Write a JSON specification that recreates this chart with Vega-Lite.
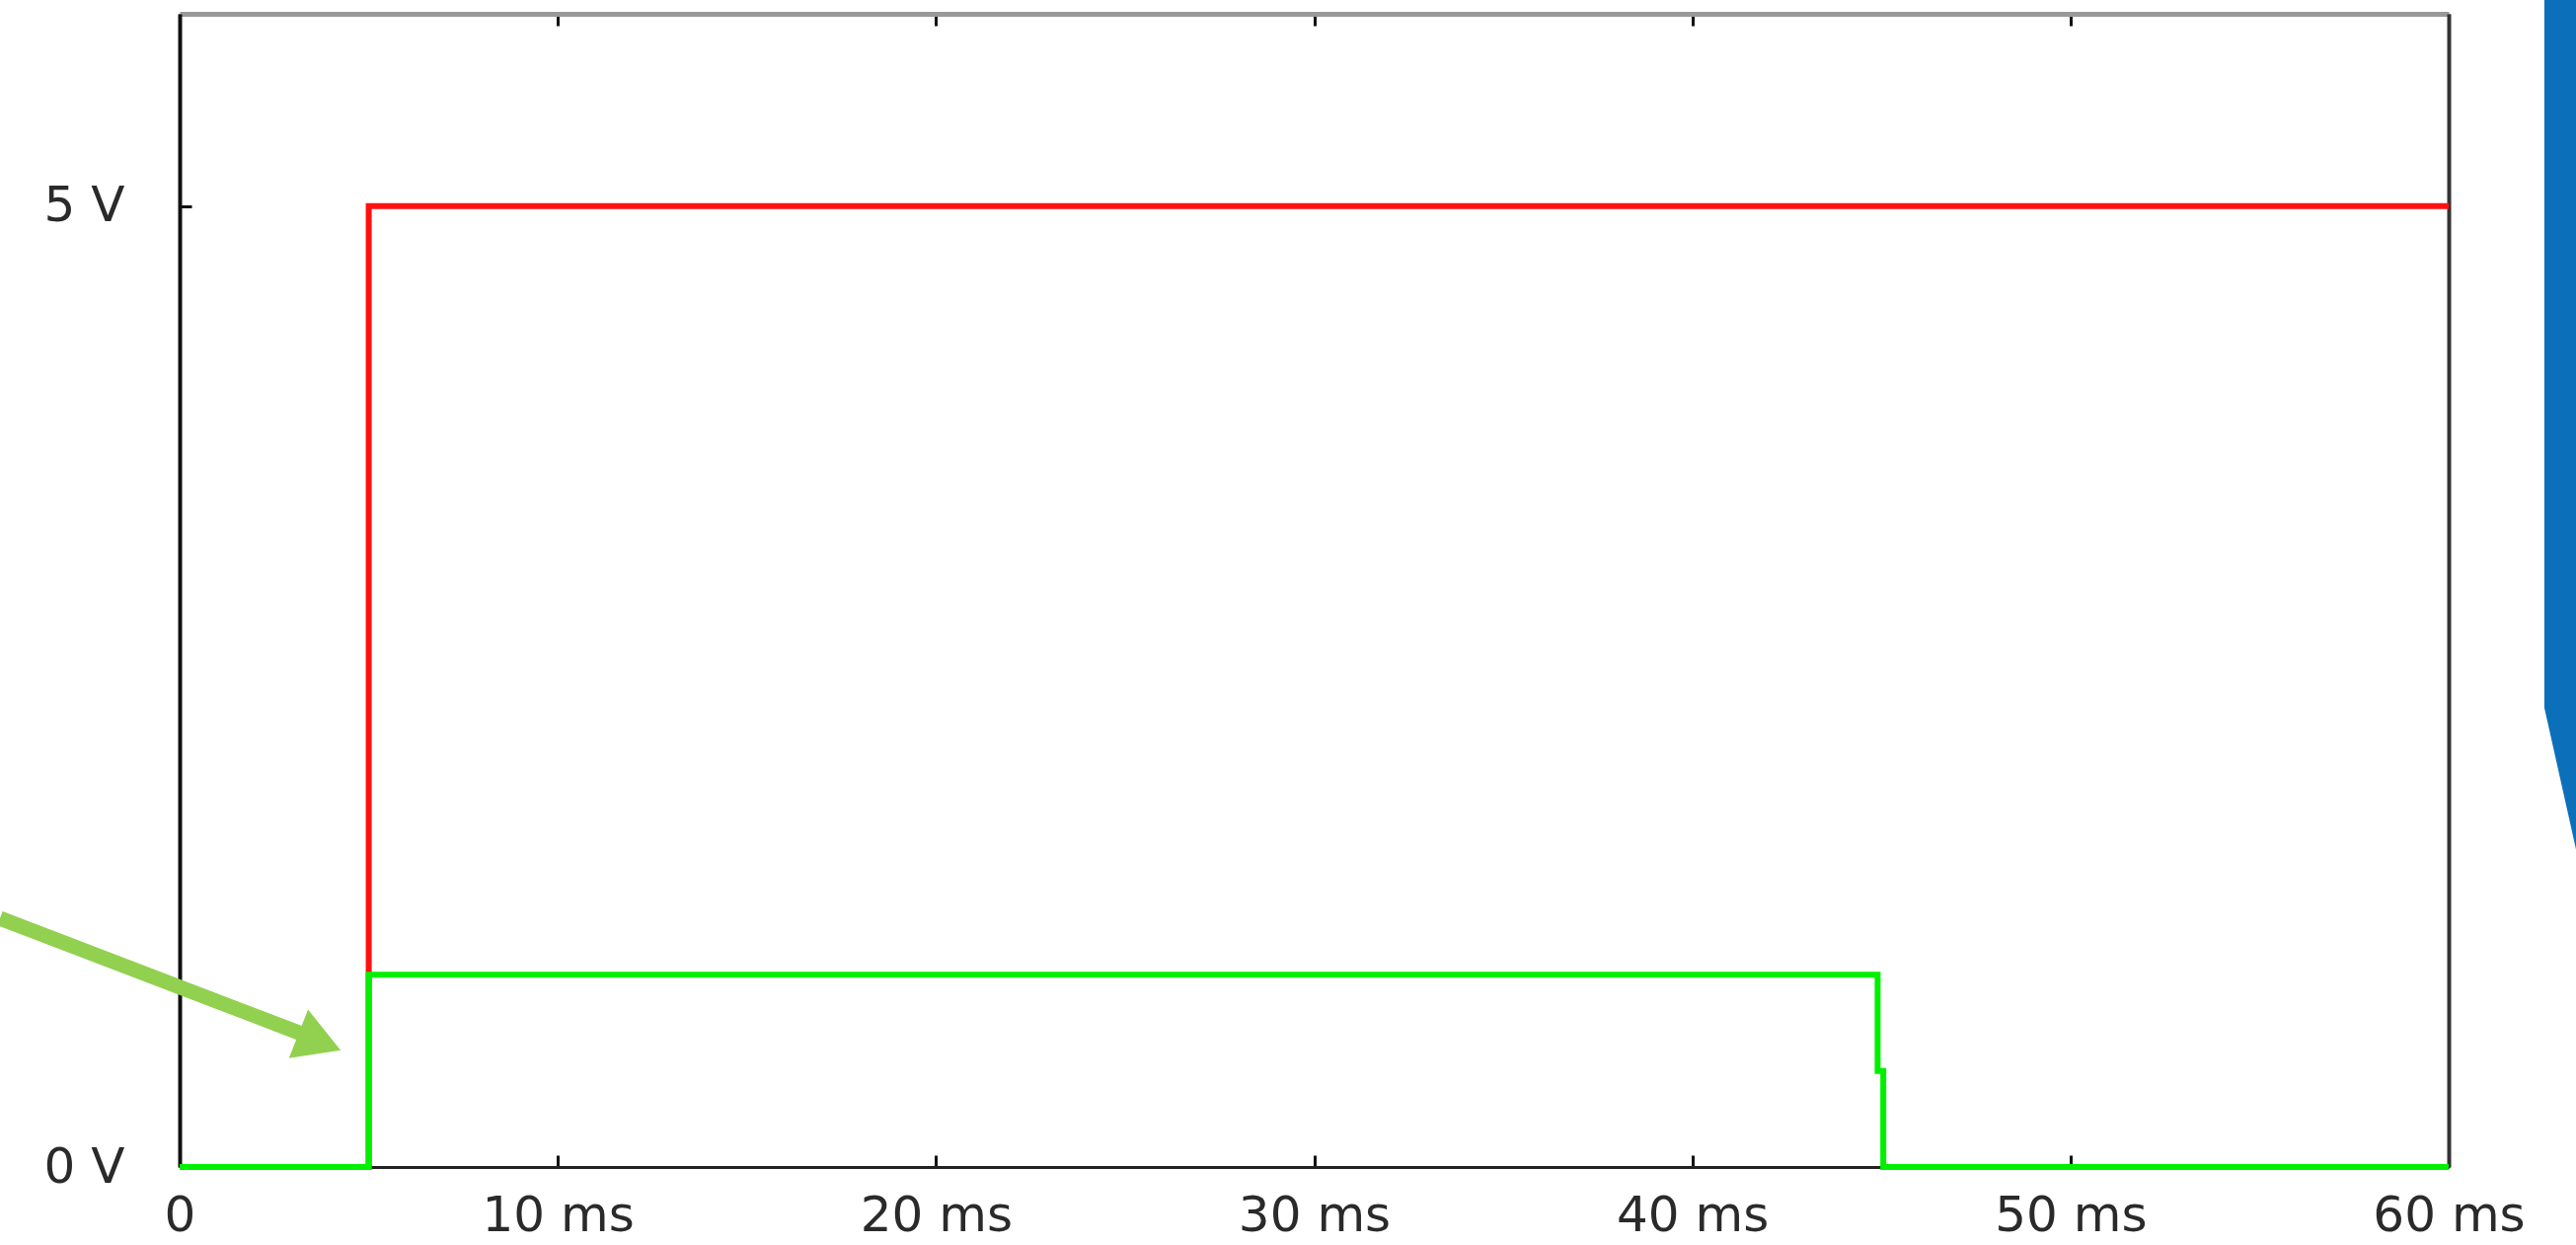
{
  "$schema": "https://vega.github.io/schema/vega-lite/v6.json",
  "width": 2299,
  "height": 1168,
  "autosize": {"type": "none"},
  "padding": {"left": 182, "top": 14, "right": 129, "bottom": 79},
  "background": "white",
  "config": {
    "view": {"stroke": null},
    "axis": {"grid": false, "labelFont": "DejaVu Sans", "labelFontSize": 50, "labelColor": "#2a2a2a", "tickColor": "#111", "tickWidth": 3, "tickSize": -12}
  },
  "datasets": {
    "red": [
      {"i": 0, "t": 0, "v": 0},
      {"i": 1, "t": 5, "v": 0},
      {"i": 2, "t": 5, "v": 5},
      {"i": 3, "t": 60, "v": 5}
    ],
    "green": [
      {"i": 0, "t": 0, "v": 0},
      {"i": 1, "t": 5, "v": 0},
      {"i": 2, "t": 5, "v": 1},
      {"i": 3, "t": 44.9, "v": 1},
      {"i": 4, "t": 44.9, "v": 0.5},
      {"i": 5, "t": 45.05, "v": 0.5},
      {"i": 6, "t": 45.05, "v": 0},
      {"i": 7, "t": 60, "v": 0}
    ],
    "arrow": [
      {"t": -4.75, "v": 1.294, "t2": 3.4, "v2": 0.68}
    ],
    "head": [
      {"t": 3.7, "v": 0.65}
    ],
    "deco": [
      {"t": 62.53, "top": 6.6, "bottom": 2.39},
      {"t": 63.45, "top": 6.6, "bottom": 1.58}
    ]
  },
  "layer": [
    {
      "data": {"name": "deco"},
      "mark": {"type": "area", "color": "#0b70b9", "clip": false},
      "encoding": {
        "x": {"field": "t", "type": "quantitative", "scale": {"domain": [0, 60]}, "axis": null},
        "y": {"field": "top", "type": "quantitative", "scale": {"domain": [0, 6]}, "axis": null},
        "y2": {"field": "bottom"}
      }
    },
    {
      "data": {"name": "red"},
      "mark": {"type": "line", "color": "#ff1010", "strokeWidth": 6},
      "encoding": {
        "x": {"field": "t", "type": "quantitative", "scale": {"domain": [0, 60]},
          "axis": {"orient": "bottom", "title": null, "values": [0, 10, 20, 30, 40, 50, 60], "labelExpr": "datum.value == 0 ? '0' : datum.value + ' ms'", "labelPadding": 36, "domainColor": "#222", "domainWidth": 3, "labelFlush": false}},
        "y": {"field": "v", "type": "quantitative", "scale": {"domain": [0, 6]},
          "axis": {"orient": "left", "title": null, "values": [0, 5], "labelExpr": "datum.value + ' V'", "labelPadding": 68, "domainColor": "#111", "domainWidth": 4}},
        "order": {"field": "i"}
      }
    },
    {
      "data": {"name": "green"},
      "mark": {"type": "line", "color": "#00f000", "strokeWidth": 6},
      "encoding": {
        "x": {"field": "t", "type": "quantitative", "scale": {"domain": [0, 60]},
          "axis": {"orient": "top", "title": null, "values": [0, 10, 20, 30, 40, 50, 60], "labels": false, "domainColor": "#999", "domainWidth": 5}},
        "y": {"field": "v", "type": "quantitative", "scale": {"domain": [0, 6]},
          "axis": {"orient": "right", "title": null, "values": [0, 5], "labels": false, "domainColor": "#333", "domainWidth": 4}},
        "order": {"field": "i"}
      }
    },
    {
      "data": {"name": "arrow"},
      "mark": {"type": "rule", "color": "#92d050", "strokeWidth": 15},
      "encoding": {
        "x": {"field": "t", "type": "quantitative", "scale": {"domain": [0, 60]}, "axis": null},
        "y": {"field": "v", "type": "quantitative", "scale": {"domain": [0, 6]}, "axis": null},
        "x2": {"field": "t2"},
        "y2": {"field": "v2"}
      }
    },
    {
      "data": {"name": "head"},
      "mark": {"type": "point", "shape": "triangle-right", "filled": true, "color": "#92d050", "opacity": 1, "size": 2800, "angle": 21.4},
      "encoding": {
        "x": {"field": "t", "type": "quantitative", "scale": {"domain": [0, 60]}, "axis": null},
        "y": {"field": "v", "type": "quantitative", "scale": {"domain": [0, 6]}, "axis": null}
      }
    }
  ],
  "resolve": {"axis": {"x": "independent", "y": "independent"}}
}
